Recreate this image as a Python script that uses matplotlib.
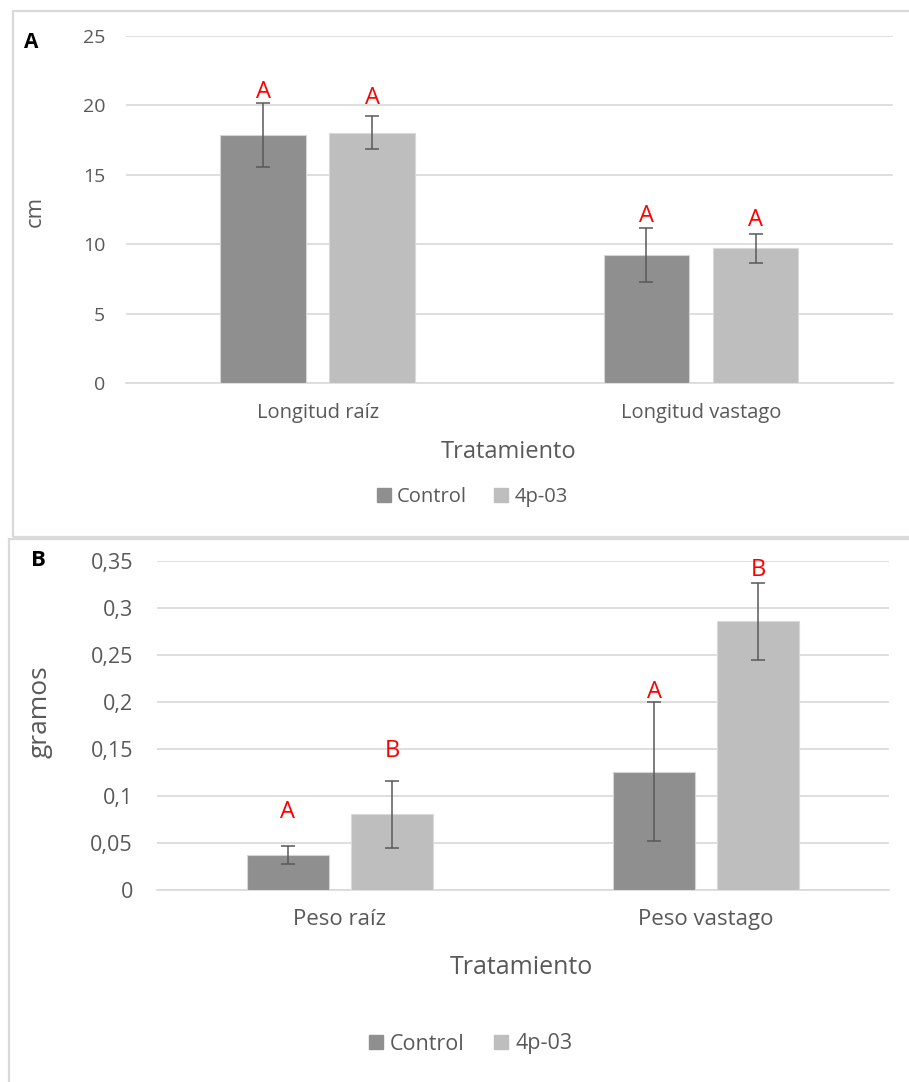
import matplotlib.pyplot as plt
from matplotlib.patches import Rectangle
from matplotlib.lines import Line2D

plt.rcParams['font.family'] = ['Open Sans', 'DejaVu Sans']

# --- data ---
series = ['Control', '4p-03']

cats_a = ['Longitud raíz', 'Longitud vastago']
ctrl_a = [17.9, 9.25]
ctrl_a_err = [2.3, 1.93]
trt_a = [18.03, 9.71]
trt_a_err = [1.2, 1.02]
letters_a_ctrl = ['A', 'A']
letters_a_trt = ['A', 'A']

cats_b = ['Peso raíz', 'Peso vastago']
ctrl_b = [0.0367, 0.1253]
ctrl_b_err = [0.0098, 0.074]
trt_b = [0.080, 0.2853]
trt_b_err = [0.036, 0.0405]
letters_b_ctrl = ['A', 'A']
letters_b_trt = ['B', 'B']

yticks_a = [0, 5, 10, 15, 20, 25]
yticks_b = [0, 0.05, 0.1, 0.15, 0.2, 0.25, 0.3, 0.35]
yticklabels_b = ['0', '0,05', '0,1', '0,15', '0,2', '0,25', '0,3', '0,35']

C_CTRL = '#8f8f8f'
C_TRT = '#bebebe'
GRID = '#d9d9d9'
TXT = '#595959'

W, H = 909, 1082
fig = plt.figure(figsize=(W / 100, H / 100), dpi=100)


def fx(x):
    return x / W


def fy(y):
    return 1 - y / H


def ax_box(x0, x1, ytop, ybot):
    return [fx(x0), fy(ybot), fx(x1) - fx(x0), fy(ytop) - fy(ybot)]


# panel frames
fig.patches.append(Rectangle((fx(12.5), fy(537)), fx(930) - fx(12.5), fy(11) - fy(537),
                             transform=fig.transFigure, fill=False, edgecolor=GRID, lw=1.6))
fig.patches.append(Rectangle((fx(9), fy(1100)), fx(930) - fx(9), fy(538.5) - fy(1100),
                             transform=fig.transFigure, fill=False, edgecolor=GRID, lw=1.6))


def draw_panel(ax, cats, ctrl, ctrl_err, trt, trt_err, let_c, let_t, pads_c, pads_t,
               tick_fs, cat_fs):
    x = [0, 1]
    off = 0.1423
    bw = 0.2235
    xc = [i - off for i in x]
    xt = [i + off for i in x]
    ax.bar(xc, ctrl, bw, color=C_CTRL, edgecolor='#d4d4d4', lw=0.8, zorder=3)
    ax.bar(xt, trt, bw, color=C_TRT, edgecolor='#dadada', lw=0.8, zorder=3)
    ax.errorbar(xc, ctrl, yerr=ctrl_err, fmt='none', ecolor=TXT, elinewidth=1.1,
                capsize=5, capthick=1.1, zorder=4)
    ax.errorbar(xt, trt, yerr=trt_err, fmt='none', ecolor=TXT, elinewidth=1.1,
                capsize=5, capthick=1.1, zorder=4)
    for xs, vals, errs, lets, pads in [(xc, ctrl, ctrl_err, let_c, pads_c),
                                       (xt, trt, trt_err, let_t, pads_t)]:
        for xi, v, e, l, p in zip(xs, vals, errs, lets, pads):
            ax.annotate(l, (xi, v + e), xytext=(0, p), textcoords='offset points',
                        ha='center', va='center', color='#ff0000', fontsize=17)
    ax.set_xlim(-0.5, 1.5)
    ax.set_xticks(x)
    ax.set_xticklabels(cats)
    ax.yaxis.grid(True, color=GRID, lw=1.2, zorder=0)
    ax.set_axisbelow(True)
    for s in ['top', 'right', 'left']:
        ax.spines[s].set_visible(False)
    ax.spines['bottom'].set_color(GRID)
    ax.spines['bottom'].set_linewidth(1.2)
    ax.tick_params(length=0, colors=TXT)
    ax.tick_params(axis='y', labelsize=tick_fs, pad=15)
    ax.tick_params(axis='x', labelsize=cat_fs, pad=14)


# panel A
ax1 = fig.add_axes(ax_box(126, 892.7, 36, 383.3))
draw_panel(ax1, cats_a, ctrl_a, ctrl_a_err, trt_a, trt_a_err,
           letters_a_ctrl, letters_a_trt, [8, 8.9], [13.4, 10.3], 14, 14.5)
ax1.set_ylim(0, 25)
ax1.set_yticks(yticks_a)

# panel B
ax2 = fig.add_axes(ax_box(156.5, 889.5, 560.7, 889.6))
draw_panel(ax2, cats_b, ctrl_b, ctrl_b_err, trt_b, trt_b_err,
           letters_b_ctrl, letters_b_trt, [24.5, 7.6], [21.4, 10], 15.5, 16)
ax2.set_ylim(0, 0.35)
ax2.set_yticks(yticks_b)
ax2.set_yticklabels(yticklabels_b)
ax2.tick_params(axis='y', pad=17)

# panel letters and axis titles
fig.text(fx(31), fy(43), 'A', fontsize=15, fontweight='bold', color='black', ha='center', va='center')
fig.text(fx(38), fy(560), 'B', fontsize=16, fontweight='bold', color='black', ha='center', va='center')
fig.text(fx(35), fy(211), 'cm', fontsize=16, color=TXT, rotation=90, ha='center', va='center')
fig.text(fx(40), fy(712), 'gramos', fontsize=19, color=TXT, rotation=90, ha='center', va='center')
fig.text(fx(509), fy(452), 'Tratamiento', fontsize=17, color=TXT, ha='center', va='center')
fig.text(fx(521), fy(968), 'Tratamiento', fontsize=18, color=TXT, ha='center', va='center')

# legends
handles = [Line2D([], [], marker='s', ls='none', color=c, markersize=10) for c in [C_CTRL, C_TRT]]
for y, xc, fs in [(497, 472, 14.5), (1044, 470, 15.5)]:
    fig.legend(handles, series, loc='center', bbox_to_anchor=(fx(xc), fy(y)), ncol=2,
               frameon=False, fontsize=fs, labelcolor=TXT, handletextpad=0.25,
               columnspacing=1.3, handlelength=0.8)

fig.savefig('out.png', dpi=100, facecolor='white')
